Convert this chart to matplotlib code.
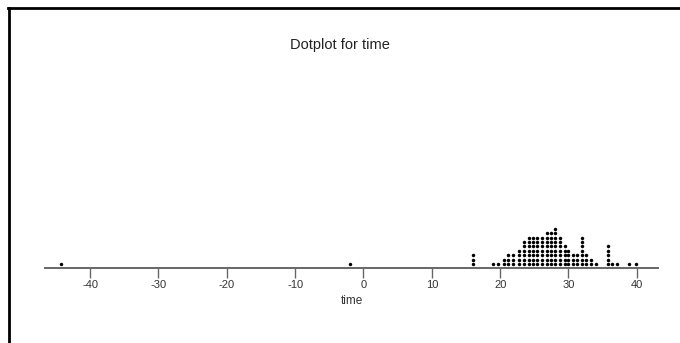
import numpy as np
import matplotlib
matplotlib.use("Agg")
import matplotlib.pyplot as plt
from matplotlib.lines import Line2D

# stacked dot columns: bin centre on the time axis and number of dots in it
bin_centers = [-44.2, -2.0, 16.0, 18.9, 19.7, 20.6, 21.2, 21.9, 22.8, 23.5,
               24.2, 24.8, 25.4, 26.1, 26.8, 27.4, 28.1, 28.7, 29.5, 30.0,
               30.7, 31.3, 32.0, 32.6, 33.3, 34.0, 35.8, 36.4, 37.1, 38.9, 39.9]
bin_counts = [1, 1, 3, 1, 1, 2, 3, 3, 4, 6,
              7, 7, 7, 7, 8, 8, 9, 7, 5, 4,
              3, 3, 7, 3, 2, 1, 5, 1, 1, 1, 1]
tick_values = [-40, -30, -20, -10, 0, 10, 20, 30, 40]

plt.rcParams['font.family'] = ['Liberation Sans', 'DejaVu Sans']

fig = plt.figure(figsize=(6.8, 3.43), dpi=100)
ax = fig.add_axes([45/680, 75/343, 613/680, 208/343])

# expand the columns into single dots
xs, ys = [], []
for c, n in zip(bin_centers, bin_counts):
    for k in range(n):
        xs.append(c)
        ys.append(0.9 + k)
ax.plot(xs, ys, 'o', color='black', markersize=2.5, markeredgewidth=0)

ax.set_xlim(-46.6, 43.1)
ax.set_ylim(0, 208/4.4)

for s in ['top', 'right', 'left']:
    ax.spines[s].set_visible(False)
ax.spines['bottom'].set_color('#666666')
ax.spines['bottom'].set_linewidth(1.4)
ax.set_yticks([])
ax.set_xticks(tick_values)
ax.set_xticklabels([str(t) for t in tick_values])
ax.tick_params(axis='x', length=7, width=1, color='#666666',
               labelsize=8, labelcolor='#333333', pad=2)
ax.set_xlabel('time', fontsize=8.5, color='#333333', labelpad=3)

fig.text(0.5, 1 - 45/343, 'Dotplot for time', ha='center', va='center',
         fontsize=10.5, color='#222222')

# outer frame (top and left edges)
fig.add_artist(Line2D([8/680, 1], [1 - 8/343, 1 - 8/343], color='black',
                      linewidth=2, transform=fig.transFigure))
fig.add_artist(Line2D([9/680, 9/680], [0, 1 - 8/343], color='black',
                      linewidth=2, transform=fig.transFigure))

fig.savefig('out.png', dpi=100)
